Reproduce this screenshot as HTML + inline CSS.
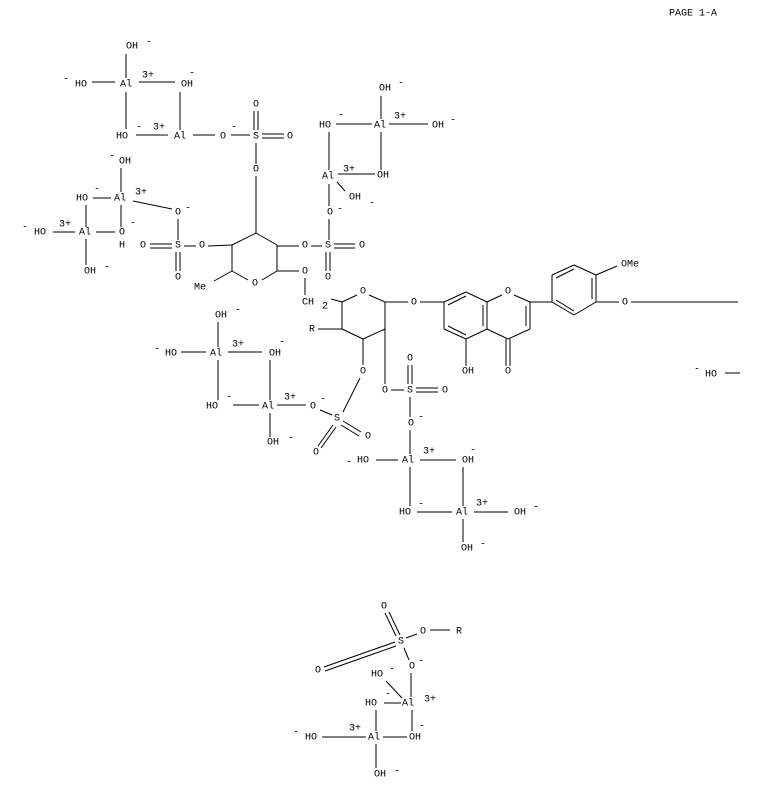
<!DOCTYPE html>
<html><head><meta charset="utf-8"><style>
html,body{margin:0;padding:0;background:#fff}
svg{display:block}
text{font-family:"Liberation Mono",monospace;font-size:10px;fill:#000;text-anchor:middle;dominant-baseline:central}
line{stroke:#000;stroke-width:1}
</style></head><body>
<svg width="768" height="796" viewBox="0 0 768 796" xmlns="http://www.w3.org/2000/svg">
<text x="693" y="14">PAGE 1-A</text>

<text x="132" y="47">OH</text><text x="149" y="43">-</text>
<text x="81" y="85">HO</text><text x="66" y="80">-</text>
<text x="126" y="85">Al</text><text x="148" y="76">3+</text>
<text x="187" y="85">OH</text><text x="192" y="74">-</text>
<text x="122" y="137">HO</text><text x="139" y="128">-</text>
<text x="159" y="128">3+</text>
<text x="180" y="137">Al</text>
<text x="223" y="137">O</text><text x="234" y="128">-</text>
<text x="256" y="137">S</text>
<text x="290" y="137">O</text>
<text x="256" y="105">O</text>
<line x1="126" y1="54" x2="126" y2="78"/>
<line x1="92" y1="82" x2="115" y2="82"/>
<line x1="139" y1="82" x2="175" y2="82"/>
<line x1="126" y1="92" x2="126" y2="129"/>
<line x1="180" y1="92" x2="180" y2="130"/>
<line x1="136" y1="135" x2="168" y2="135"/>
<line x1="193" y1="135" x2="215" y2="135"/>
<line x1="231" y1="135" x2="250" y2="135"/>
<line x1="262" y1="134" x2="284" y2="134"/><line x1="262" y1="138" x2="284" y2="138"/>
<line x1="254" y1="111" x2="254" y2="130"/><line x1="258" y1="111" x2="258" y2="130"/>
<line x1="256" y1="143" x2="256" y2="164"/>
<text x="256" y="170">O</text>
<line x1="256" y1="176" x2="256" y2="233"/>

<text x="385" y="89">OH</text><text x="401" y="84">-</text>
<text x="325" y="126">HO</text><text x="341" y="116">-</text>
<text x="380" y="126">Al</text><text x="400" y="117">3+</text>
<text x="438" y="126">OH</text><text x="453" y="121">-</text>
<line x1="381" y1="96" x2="381" y2="119"/>
<line x1="336" y1="124" x2="372" y2="124"/>
<line x1="389" y1="124" x2="428" y2="124"/>
<line x1="329" y1="132" x2="329" y2="170"/>
<line x1="381" y1="132" x2="381" y2="170"/>
<text x="328" y="177">Al</text><text x="349" y="170">3+</text>
<text x="383" y="176">OH</text>
<line x1="338" y1="174" x2="375" y2="174"/>
<line x1="337" y1="182" x2="345" y2="191"/>
<text x="355" y="198">OH</text><text x="372" y="204">-</text>
<line x1="329" y1="184" x2="329" y2="206"/>
<text x="330" y="213">O</text><text x="340" y="210">-</text>
<line x1="329" y1="219" x2="329" y2="240"/>
<text x="328" y="246">S</text>
<text x="305" y="246">O</text>
<text x="362" y="246">O</text>
<text x="328" y="278">O</text>
<line x1="311" y1="246" x2="322" y2="246"/>
<line x1="334" y1="244" x2="355" y2="244"/><line x1="334" y1="248" x2="355" y2="248"/>
<line x1="326" y1="252" x2="326" y2="271"/><line x1="330" y1="252" x2="330" y2="271"/>
<line x1="277" y1="246" x2="299" y2="246"/>

<text x="125" y="162">OH</text><text x="112" y="157">-</text>
<text x="82" y="199">HO</text><text x="97" y="190">-</text>
<text x="120" y="199">Al</text><text x="141" y="193">3+</text>
<text x="122" y="233">O</text><text x="122" y="246">H</text><text x="133" y="224">-</text>
<text x="85" y="233">Al</text><text x="65" y="225">3+</text>
<text x="40" y="233">HO</text><text x="25" y="228">-</text>
<text x="90" y="272">OH</text><text x="107" y="268">-</text>
<line x1="121" y1="168" x2="121" y2="192"/>
<line x1="93" y1="198" x2="111" y2="198"/>
<line x1="133" y1="201" x2="172" y2="209"/>
<line x1="121" y1="205" x2="121" y2="227"/>
<line x1="86" y1="205" x2="86" y2="227"/>
<line x1="53" y1="232" x2="75" y2="232"/>
<line x1="96" y1="232" x2="115" y2="232"/>
<line x1="86" y1="239" x2="86" y2="265"/>
<text x="178" y="213">O</text><text x="188" y="209">-</text>
<text x="178" y="246">S</text>
<text x="143" y="246">O</text>
<text x="202" y="246">O</text>
<text x="178" y="278">O</text>
<line x1="178" y1="219" x2="178" y2="240"/>
<line x1="150" y1="244" x2="172" y2="244"/><line x1="150" y1="248" x2="172" y2="248"/>
<line x1="184" y1="246" x2="196" y2="246"/>
<line x1="176" y1="252" x2="176" y2="271"/><line x1="180" y1="252" x2="180" y2="271"/>
<line x1="208" y1="246" x2="232" y2="245"/>

<line x1="232" y1="245" x2="256" y2="233"/>
<line x1="256" y1="233" x2="277" y2="245"/>
<line x1="277" y1="245" x2="277" y2="271"/>
<line x1="277" y1="271" x2="262" y2="280"/>
<line x1="248" y1="280" x2="232" y2="271"/>
<line x1="232" y1="271" x2="232" y2="245"/>
<text x="255" y="284">O</text>
<text x="200" y="288">Me</text>
<line x1="214" y1="281" x2="232" y2="271"/>
<line x1="277" y1="271" x2="299" y2="271"/>
<text x="305" y="272">O</text>
<line x1="305" y1="278" x2="305" y2="295"/>
<text x="302" y="303" style="text-anchor:start">CH</text><text x="325" y="307">2</text>
<line x1="331" y1="299" x2="342" y2="302"/>

<line x1="342" y1="302" x2="357" y2="295"/>
<line x1="369" y1="295" x2="385" y2="302"/>
<line x1="385" y1="302" x2="385" y2="329"/>
<line x1="385" y1="329" x2="363" y2="339"/>
<line x1="363" y1="339" x2="342" y2="329"/>
<line x1="342" y1="329" x2="342" y2="302"/>
<text x="363" y="292">O</text>
<text x="312" y="330">R</text>
<line x1="318" y1="329" x2="342" y2="329"/>
<line x1="385" y1="302" x2="408" y2="302"/>
<text x="414" y="303">O</text>
<line x1="420" y1="302" x2="444" y2="302"/>

<line x1="444" y1="302" x2="466" y2="292"/>
<line x1="448" y1="305" x2="466" y2="296"/>
<line x1="466" y1="292" x2="487" y2="302"/>
<line x1="487" y1="302" x2="487" y2="329"/>
<line x1="483" y1="305" x2="483" y2="326"/>
<line x1="487" y1="329" x2="466" y2="339"/>
<line x1="466" y1="339" x2="444" y2="329"/>
<line x1="466" y1="335" x2="448" y2="326"/>
<line x1="444" y1="329" x2="444" y2="302"/>
<line x1="487" y1="302" x2="502" y2="295"/>
<text x="508" y="292">O</text>
<line x1="514" y1="295" x2="530" y2="302"/>
<line x1="530" y1="302" x2="530" y2="329"/>
<line x1="526" y1="306" x2="526" y2="326"/>
<line x1="530" y1="329" x2="508" y2="339"/>
<line x1="508" y1="339" x2="487" y2="329"/>
<line x1="506" y1="339" x2="506" y2="366"/><line x1="510" y1="339" x2="510" y2="366"/>
<text x="508" y="372">O</text>
<line x1="466" y1="339" x2="466" y2="366"/>
<text x="468" y="372">OH</text>
<line x1="530" y1="302" x2="552" y2="302"/>
<line x1="552" y1="302" x2="552" y2="275"/>
<line x1="552" y1="275" x2="574" y2="265"/>
<line x1="556" y1="278" x2="574" y2="269"/>
<line x1="574" y1="265" x2="596" y2="275"/>
<line x1="596" y1="275" x2="596" y2="302"/>
<line x1="592" y1="278" x2="592" y2="299"/>
<line x1="596" y1="302" x2="574" y2="315"/>
<line x1="574" y1="315" x2="552" y2="302"/>
<line x1="574" y1="311" x2="556" y2="300"/>
<line x1="596" y1="275" x2="617" y2="266"/>
<text x="630" y="265">OMe</text>
<line x1="596" y1="302" x2="619" y2="302"/>
<text x="625" y="303">O</text>
<line x1="631" y1="302" x2="738" y2="302"/>
<text x="697" y="370">-</text><text x="711" y="375">HO</text>
<line x1="725" y1="373" x2="740" y2="373"/>

<line x1="363" y1="339" x2="363" y2="365"/>
<text x="363" y="372">O</text>
<line x1="360" y1="378" x2="343" y2="412"/>
<text x="337" y="419">S</text>
<text x="313" y="407">O</text><text x="323" y="400">-</text>
<line x1="320" y1="410" x2="332" y2="415"/>
<line x1="343" y1="421" x2="361" y2="432"/><line x1="341" y1="425" x2="359" y2="436"/>
<text x="368" y="437">O</text>
<line x1="333" y1="425" x2="318" y2="446"/><line x1="336" y1="427" x2="321" y2="448"/>
<text x="316" y="453">O</text>

<text x="221" y="316">OH</text><text x="238" y="311">-</text>
<text x="171" y="354">HO</text><text x="157" y="350">-</text>
<text x="216" y="354">Al</text><text x="238" y="345">3+</text>
<text x="275" y="354">OH</text><text x="282" y="343">-</text>
<line x1="218" y1="322" x2="218" y2="347"/>
<line x1="181" y1="352" x2="206" y2="352"/>
<line x1="228" y1="352" x2="262" y2="352"/>
<line x1="218" y1="360" x2="218" y2="400"/>
<line x1="270" y1="360" x2="270" y2="400"/>
<text x="212" y="407">HO</text><text x="229" y="398">-</text>
<text x="268" y="407">Al</text><text x="290" y="398">3+</text>
<line x1="233" y1="405" x2="259" y2="405"/>
<line x1="277" y1="405" x2="306" y2="405"/>
<line x1="270" y1="413" x2="270" y2="437"/>
<text x="273" y="443">OH</text><text x="291" y="439">-</text>

<line x1="385" y1="329" x2="385" y2="384"/>
<text x="385" y="391">O</text>
<line x1="391" y1="390" x2="404" y2="390"/>
<text x="410" y="391">S</text>
<line x1="416" y1="388" x2="438" y2="388"/><line x1="416" y1="392" x2="438" y2="392"/>
<text x="445" y="391">O</text>
<line x1="408" y1="365" x2="408" y2="384"/><line x1="412" y1="365" x2="412" y2="384"/>
<text x="410" y="359">O</text>
<line x1="410" y1="397" x2="410" y2="417"/>
<text x="411" y="424">O</text><text x="421" y="418">-</text>
<line x1="410" y1="430" x2="410" y2="454"/>
<text x="408" y="461">Al</text><text x="429" y="452">3+</text>
<text x="363" y="461">HO</text><text x="349" y="463">-</text>
<text x="468" y="461">OH</text><text x="473" y="451">-</text>
<line x1="376" y1="460" x2="398" y2="460"/>
<line x1="420" y1="460" x2="456" y2="460"/>
<line x1="410" y1="467" x2="410" y2="506"/>
<line x1="463" y1="467" x2="463" y2="506"/>
<text x="405" y="513">HO</text><text x="421" y="505">-</text>
<text x="462" y="513">Al</text><text x="482" y="504">3+</text>
<text x="520" y="513">OH</text><text x="536" y="508">-</text>
<line x1="417" y1="512" x2="452" y2="512"/>
<line x1="474" y1="512" x2="508" y2="512"/>
<line x1="463" y1="519" x2="463" y2="542"/>
<text x="467" y="549">OH</text><text x="483" y="545">-</text>

<text x="384" y="607">O</text>
<line x1="385" y1="613" x2="396" y2="636"/><line x1="389" y1="612" x2="400" y2="635"/>
<text x="401" y="642">S</text>
<line x1="406" y1="638" x2="417" y2="634"/>
<text x="423" y="632">O</text>
<line x1="430" y1="630" x2="450" y2="630"/>
<text x="459" y="632">R</text>
<line x1="395" y1="642" x2="324" y2="667"/><line x1="396" y1="646" x2="325" y2="671"/>
<text x="318" y="671">O</text>
<line x1="404" y1="648" x2="409" y2="660"/>
<text x="412" y="667">O</text><text x="421" y="662">-</text>
<line x1="411" y1="673" x2="411" y2="697"/>
<text x="377" y="675">HO</text><text x="392" y="670">-</text>
<line x1="386" y1="681" x2="402" y2="698"/>
<text x="371" y="704">HO</text><text x="388" y="695">-</text>
<line x1="384" y1="703" x2="401" y2="703"/>
<text x="408" y="704">Al</text><text x="430" y="700">3+</text>
<line x1="412" y1="710" x2="412" y2="731"/>
<line x1="376" y1="710" x2="376" y2="731"/>
<text x="415" y="738">OH</text><text x="422" y="727">-</text>
<text x="374" y="738">Al</text><text x="355" y="729">3+</text>
<text x="311" y="738">HO</text><text x="296" y="733">-</text>
<line x1="322" y1="737" x2="366" y2="737"/>
<line x1="383" y1="737" x2="407" y2="737"/>
<line x1="376" y1="744" x2="376" y2="768"/>
<text x="380" y="775">OH</text><text x="397" y="772">-</text>
</svg>
</body></html>
